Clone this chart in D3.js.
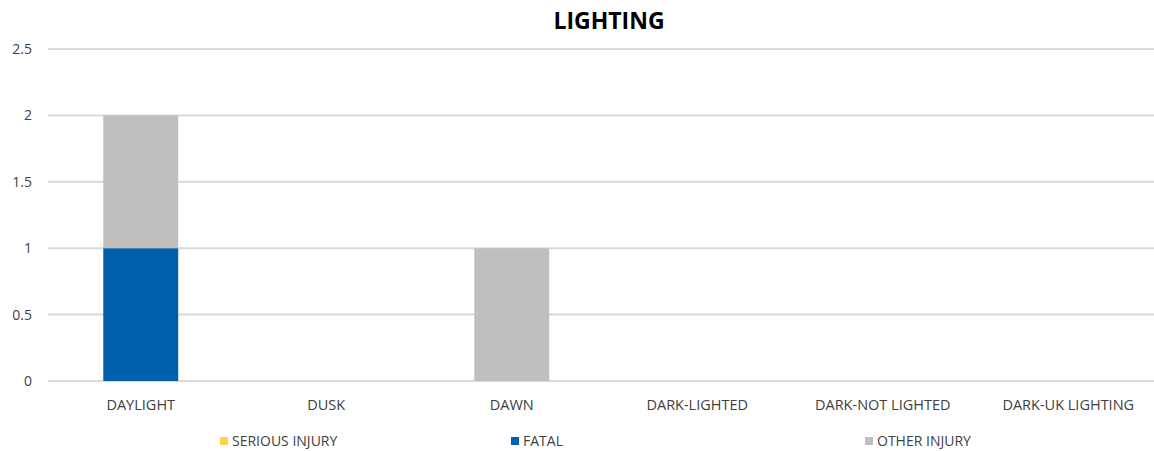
<!DOCTYPE html>
<html>
<head>
<meta charset="utf-8">
<script src="https://cdn.jsdelivr.net/npm/d3@7"></script>
<style>
  body { margin: 0; background: #fff; }
  svg { display: block; font-family: "Open Sans", "Liberation Sans", sans-serif; }
</style>
</head>
<body>
<div id="chart"></div>
<script>
// Chart data
const categories = ['DAYLIGHT', 'DUSK', 'DAWN', 'DARK-LIGHTED', 'DARK-NOT LIGHTED', 'DARK-UK LIGHTING'];
const seriesNames = ['SERIOUS INJURY', 'FATAL', 'OTHER INJURY'];
const seriousInjury = [0, 0, 0, 0, 0, 0];
const fatal = [1, 0, 0, 0, 0, 0];
const otherInjury = [1, 0, 1, 0, 0, 0];
const yTicks = [0, 0.5, 1, 1.5, 2, 2.5];

const colors = ['#ffd04f', '#0060ab', '#bfbfbf'];

function drawChart() {
    const W = 1154, H = 451;
    const margin = { top: 49, right: -7, bottom: 70, left: 48 };
    const width = W - margin.left - margin.right;
    const height = H - margin.top - margin.bottom;

    const rows = categories.map((c, i) => ({
        cat: c,
        'SERIOUS INJURY': seriousInjury[i],
        'FATAL': fatal[i],
        'OTHER INJURY': otherInjury[i]
    }));

    const svg = d3.select('#chart').append('svg')
        .attr('width', W).attr('height', H);

    const g = svg.append('g').attr('transform', `translate(${margin.left},${margin.top})`);

    const x = d3.scaleBand().domain(categories).range([0, width]).paddingInner(0.596).paddingOuter(0.298);
    const y = d3.scaleLinear().domain([0, 2.5]).range([height, 0]);

    // gridlines
    g.append('g').selectAll('line').data(yTicks).join('line')
        .attr('x1', 0).attr('x2', width)
        .attr('y1', d => y(d)).attr('y2', d => y(d))
        .attr('stroke', '#d9d9d9').attr('stroke-width', 2);

    // y labels
    g.append('g').selectAll('text').data(yTicks).join('text')
        .attr('x', -16).attr('y', d => y(d)).attr('dy', '0.35em')
        .attr('text-anchor', 'end').style('font-size', '14px').style('fill', '#404040')
        .text(d => d);

    // stacked bars: fatal at bottom, then serious, then other (serious is zero)
    const stack = d3.stack().keys(['FATAL', 'SERIOUS INJURY', 'OTHER INJURY']);
    const layers = stack(rows);

    g.append('g').selectAll('g').data(layers).join('g')
        .attr('fill', d => colors[seriesNames.indexOf(d.key)])
        .selectAll('rect').data(d => d.filter(p => p[1] - p[0] > 0)).join('rect')
        .attr('x', d => x(d.data.cat))
        .attr('width', x.bandwidth())
        .attr('y', d => y(d[1]))
        .attr('height', d => y(d[0]) - y(d[1]));

    // x labels
    g.append('g').selectAll('text').data(categories).join('text')
        .attr('x', d => x(d) + x.bandwidth() / 2)
        .attr('y', height + 29)
        .attr('text-anchor', 'middle').style('font-size', '14.5px').style('fill', '#404040')
        .text(d => d);

    // title
    svg.append('text')
        .attr('x', 609).attr('y', 29)
        .attr('text-anchor', 'middle')
        .style('font-size', '23px').style('font-weight', 'bold').style('fill', '#000')
        .text('LIGHTING');

    // legend
    const legendX = [220, 511, 865];
    const legend = svg.append('g').selectAll('g').data(seriesNames).join('g')
        .attr('transform', (d, i) => `translate(${legendX[i]},437)`);
    legend.append('rect').attr('width', 8).attr('height', 8)
        .attr('fill', (d, i) => colors[i]);
    legend.append('text').attr('x', 12).attr('y', 4).attr('dy', '0.35em')
        .style('font-size', '14px').style('fill', '#404040')
        .text(d => d);
}

drawChart();
</script>
</body>
</html>
